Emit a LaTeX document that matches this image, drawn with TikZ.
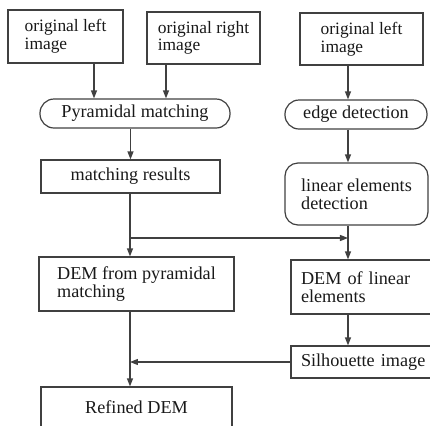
\documentclass[tikz,border=0pt]{standalone}
\usepackage{xcolor}
\usepackage{fontspec}
\setmainfont{Liberation Serif}
\usepackage{tikz}
\usetikzlibrary{positioning, arrows.meta}
\tikzset{
    block/.style={
        draw = black!75, line width = 0.6pt,
        align = left,
        text = black!90,
        inner sep = 0pt,
        font = \fontsize{9.1}{8.8}\selectfont
    },
    srcblock/.style = {block, font = \fontsize{8.7}{8.8}\selectfont},
    term/.style = {block, rounded corners = 7pt},
    sideblock/.style = {block, text width = 70pt, inner xsep = 5pt},
    line/.style = {draw = black!75, line width = 0.6pt, -{Triangle[length=4pt, width=3pt]}}
}

\begin{document}
\begin{tikzpicture}[x = 0.5pt, y = -0.5pt]

    \useasboundingbox (0,0) rectangle (430,425);
    \clip (0,0) rectangle (430,425);

    \node[srcblock, minimum width = 57.5pt, minimum height = 26.5pt] (oleft) at (65.5,36.5) {original left\\image};
    \node[srcblock, minimum width = 56.5pt, minimum height = 26pt] (oright) at (203.5,38) {original right\\image};
    \node[srcblock, minimum width = 61.5pt, minimum height = 26pt] (oleftb) at (361.5,39) {original left\\image};

    \node[term, minimum width = 95pt, minimum height = 14.5pt] (pyr) at (135,113.5) {Pyramidal matching};
    \node[term, minimum width = 71pt, minimum height = 14.5pt] (edge) at (356,114.5) {edge detection};

    \node[block, minimum width = 89.5pt, minimum height = 16.5pt] (mres) at (130.5,176.5) {matching results};
    \node[term, rounded corners = 6.5pt, minimum width = 71.5pt, minimum height = 31pt] (lin) at (356.5,194) {linear elements\\detection};

    \node[block, minimum width = 97.5pt, minimum height = 27pt] (dempyr) at (136.5,284) {DEM from pyramidal\\matching};
    \node[sideblock, minimum height = 27pt] (demlin) at (371,287) {DEM of linear\\elements};
    \node[sideblock, minimum height = 16pt] (sil) at (371,362) {Silhouette image};
    \node[block, minimum width = 95.5pt, minimum height = 20pt] (refined) at (136.5,407) {Refined DEM};

    % arrow columns
    \coordinate (ta) at (94,0);
    \coordinate (tb) at (166,0);
    \coordinate (rc) at (348,0);
    \coordinate (split) at (130,238);

    \draw[line] (oleft.south -| ta) -- (pyr.north -| ta);
    \draw[line] (oright.south -| tb) -- (pyr.north -| tb);
    \draw[line] (oleftb.south -| rc) -- (edge.north -| rc);
    \draw[line] (pyr.south -| mres.north) -- (mres.north);
    \draw[line] (edge.south -| rc) -- (lin.north -| rc);
    \draw[line] (mres.south -| split) -- (dempyr.north -| split);
    \draw[line] (split) -- (split -| rc);
    \draw[line] (lin.south -| rc) -- (demlin.north -| rc);
    \draw[line] (demlin.south -| rc) -- (sil.north -| rc);
    \draw[line] (sil.west) -- (sil.west -| split);
    \draw[line] (dempyr.south -| split) -- (refined.north -| split);

\end{tikzpicture}
\end{document}
